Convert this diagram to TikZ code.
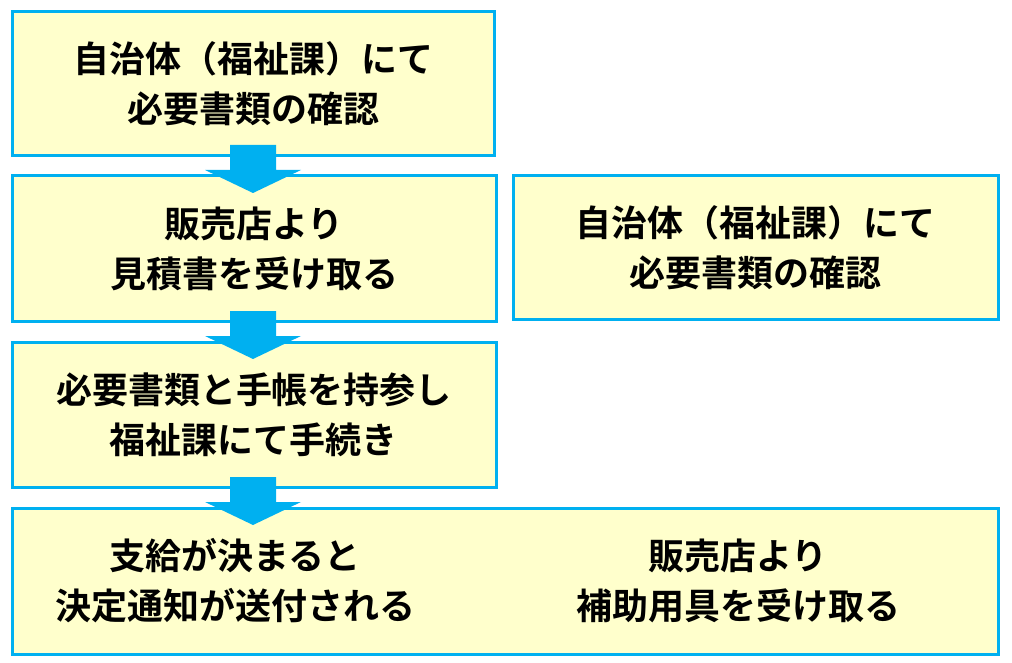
\documentclass[tikz,border=0pt]{standalone}
\usepackage{fontspec}
\setmainfont{Noto Sans CJK JP}[BoldFont={* Bold}]
\usetikzlibrary{positioning}
\definecolor{boxline}{HTML}{00B0F0}
\definecolor{boxfill}{HTML}{FFFFCC}
\tikzset{
  steptext/.style={align=center,font=\bfseries\fontsize{36}{50}\selectfont,inner sep=0pt},
  stepbox/.style={steptext,draw=boxline,line width=3pt,fill=boxfill},
  flowarrow/.style={fill=boxline,draw=none}
}
\begin{document}
\begin{tikzpicture}[x=1pt,y=-1pt]
\useasboundingbox (0,0) rectangle (1012,663);
\node[stepbox,minimum width=482pt,minimum height=144pt] (check) at (253,84) {自治体（福祉課）にて\\必要書類の確認};
\node[stepbox,minimum width=484pt,minimum height=145pt] (quote) at (254,248.5) {販売店より\\見積書を受け取る};
\node[stepbox,minimum width=485pt,minimum height=143pt] (checkb) at (755.5,247.5) {自治体（福祉課）にて\\必要書類の確認};
\node[stepbox,minimum width=484pt,minimum height=145pt] (apply) at (254,414.5) {必要書類と手帳を持参し\\福祉課にて手続き};
\node[stepbox,minimum width=986pt,minimum height=146pt] (result) at (505,581) {};
\node[steptext] (notice) at (235,581) {支給が決まると\\決定通知が送付される};
\node[steptext] (receive) at (738,581) {販売店より\\補助用具を受け取る};
% arrows between steps
\foreach \t in {145,311,477}
  \fill[flowarrow] (230,\t) -- (276,\t) -- (276,\t+25) -- (301,\t+25) -- (253,\t+48)
    -- (205,\t+25) -- (230,\t+25) -- cycle;
\end{tikzpicture}
\end{document}
